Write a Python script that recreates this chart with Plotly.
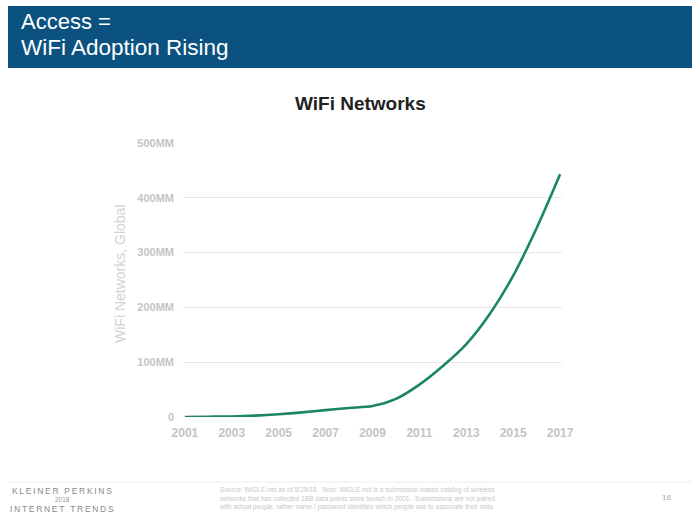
import plotly.graph_objects as go

years = [2001, 2002, 2003, 2004, 2005, 2006, 2007, 2008, 2009, 2010, 2011, 2012, 2013, 2014, 2015, 2016, 2017]
networks_mm = [0, 0.5, 1, 2.5, 5, 8.5, 12.5, 16.5, 20, 33, 59, 93, 133, 188, 258, 345, 443]
x_ticks = [2001, 2003, 2005, 2007, 2009, 2011, 2013, 2015, 2017]
y_ticks = [0, 100, 200, 300, 400, 500]
y_tick_labels = ["0", "100MM", "200MM", "300MM", "400MM", "500MM"]

W, H = 700, 525
L, R, T, B = 183, 562, 143, 417
FONT = "Arial, Liberation Sans, sans-serif"


def px(x):
    return (x - L) / (R - L)


def py(y):
    return (B - y) / (B - T)


def spaced(s):
    return "\u2009".join(s)


fig = go.Figure()
fig.add_trace(go.Scatter(
    x=years, y=networks_mm, mode="lines",
    line=dict(color="#1b8566", width=2.6, shape="spline", smoothing=0.8),
    hoverinfo="skip", showlegend=False,
))

fig.update_layout(
    width=W, height=H,
    margin=dict(l=L, r=W - R, t=T, b=H - B),
    paper_bgcolor="white", plot_bgcolor="white",
    font=dict(family=FONT),
    xaxis=dict(
        range=[2000.92, 2017.08], tickvals=x_ticks, ticktext=[str(v) for v in x_ticks],
        showgrid=False, zeroline=False, showline=False, ticks="", ticklabelstandoff=7,
        tickfont=dict(size=12, color="#c4c4c4", family=FONT, weight="bold"),
    ),
    yaxis=dict(
        range=[0, 500], tickvals=y_ticks, ticktext=y_tick_labels,
        showgrid=True, gridcolor="#e9e9e9", gridwidth=1, zeroline=False,
        showline=False, ticks="", ticklabelstandoff=8,
        tickfont=dict(size=11, color="#c4c4c4", family=FONT, weight="bold"),
    ),
    shapes=[
        dict(type="rect", xref="paper", yref="paper",
             x0=px(8), x1=px(692), y0=py(68), y1=py(6),
             fillcolor="#0b5280", line=dict(width=0), layer="below"),
        dict(type="line", xref="paper", yref="paper",
             x0=px(8), x1=px(692), y0=py(482), y1=py(482),
             line=dict(color="#eeeeee", width=1)),
    ],
)

ann = [
    dict(text="Access =", x=px(19), y=py(22), xanchor="left", yanchor="middle",
         font=dict(size=22, color="white", family=FONT)),
    dict(text="WiFi Adoption Rising", x=px(19), y=py(48), xanchor="left", yanchor="middle",
         font=dict(size=22.5, color="white", family=FONT)),
    dict(text="<b>WiFi Networks</b>", x=px(360), y=py(104), xanchor="center", yanchor="middle",
         font=dict(size=19, color="#222222", family=FONT)),
    dict(text="WiFi Networks, Global", x=px(120), y=py(274), xanchor="center", yanchor="middle",
         textangle=-90, font=dict(size=14, color="#d2d2d2", family=FONT)),
    dict(text=spaced("KLEINER PERKINS"), x=px(62), y=py(491), xanchor="center", yanchor="middle",
         font=dict(size=8.5, color="#8a8a8a", family=FONT)),
    dict(text="2018", x=px(62), y=py(499.5), xanchor="center", yanchor="middle",
         font=dict(size=6.5, color="#9a9a9a", family=FONT)),
    dict(text=spaced("INTERNET TRENDS"), x=px(62), y=py(508.5), xanchor="center", yanchor="middle",
         font=dict(size=8.5, color="#8a8a8a", family=FONT)),
    dict(text="Source: WiGLE.net as of 5/29/18.  Note: WiGLE.net is a submission-based catalog of wireless<br>"
              "networks that has collected 1BB data points since launch in 2001.  Submissions are not paired<br>"
              "with actual people, rather name / password identities which people use to associate their data.",
         x=px(357), y=py(498), xanchor="center", yanchor="middle", align="center",
         font=dict(size=6.6, color="#c8c8c8", family=FONT)),
    dict(text="16", x=px(666), y=py(497), xanchor="center", yanchor="middle",
         font=dict(size=8, color="#a8a8a8", family=FONT)),
]
for a in ann:
    a.update(xref="paper", yref="paper", showarrow=False)
fig.update_layout(annotations=ann)

fig.write_html("out.html")
